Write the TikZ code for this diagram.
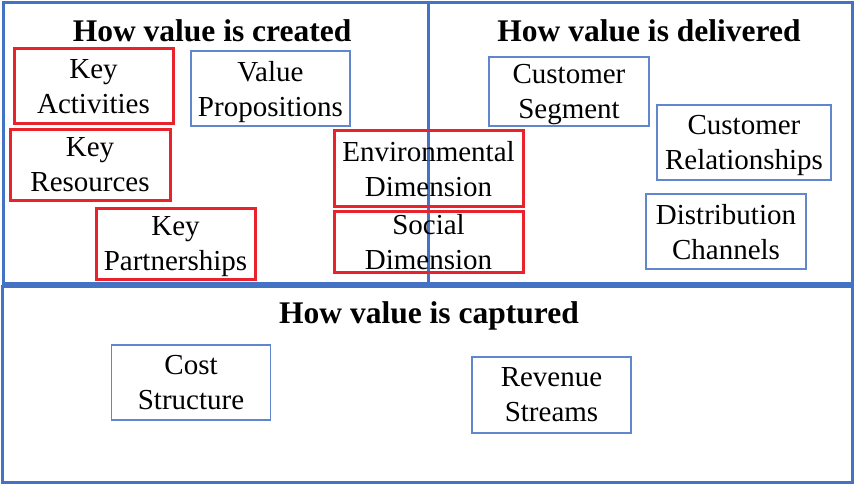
\documentclass[tikz,border=0pt]{standalone}
\usepackage{fontspec}
\setmainfont{Liberation Serif}
\usetikzlibrary{positioning}

\definecolor{panelblue}{RGB}{68,114,196}
\definecolor{boxred}{RGB}{232,35,43}

\tikzset{
  panel/.style={draw=panelblue, line width=3pt},
  blockbox/.style={draw=panelblue!85, line width=1.3pt, inner sep=0pt, align=center,
    text depth=0pt, font=\fontsize{29}{35}\selectfont},
  redbox/.style={blockbox, draw=boxred, line width=3pt},
  heading/.style={anchor=base, font=\fontsize{31.5}{38}\selectfont\bfseries}
}

\begin{document}
\begin{tikzpicture}[x=1pt,y=-1pt]
\useasboundingbox (0,0) rectangle (854,484);
% the three panels
\draw[panel] (3,3) rectangle (428,283);
\draw[panel] (428,3) rectangle (852,283);
\draw[panel] (2,286) rectangle (852,482);
\node[heading] (created) at (212,42) {How value is created};
\node[heading] (delivered) at (649,42) {How value is delivered};
\node[heading] (captured) at (429,323) {How value is captured};
% how value is created
\node[redbox, minimum width=159pt, minimum height=75pt] (keyact) at (93.5,86.5) {Key\\Activities};
\node[blockbox, minimum width=159pt, minimum height=75pt] (valprop) at (270.5,88.5) {Value\\Propositions};
\node[redbox, minimum width=160pt, minimum height=70pt] (keyres) at (90,165) {Key\\Resources};
\node[redbox, minimum width=159pt, minimum height=71pt] (keypart) at (175.5,243.5) {Key\\Partnerships};
% the two new dimensions, across the line
\node[redbox, minimum width=189pt, minimum height=75pt] (envdim) at (428.5,168.5) {Environmental\\Dimension};
\node[redbox, minimum width=189pt, minimum height=61pt] (socdim) at (428.5,241.5) {Social\\Dimension};
% how value is delivered
\node[blockbox, minimum width=160pt, minimum height=69pt] (custseg) at (569,91.5) {Customer\\Segment};
\node[blockbox, minimum width=174pt, minimum height=75pt] (custrel) at (744,142.5) {Customer\\Relationships};
\node[blockbox, minimum width=160pt, minimum height=75pt] (distch) at (726,231.5) {Distribution\\Channels};
% how value is captured
\node[blockbox, minimum width=159pt, minimum height=75pt] (coststr) at (191,382.5) {Cost\\Structure};
\node[blockbox, minimum width=159pt, minimum height=76pt] (revstr) at (551.5,395) {Revenue\\Streams};
\end{tikzpicture}
\end{document}
